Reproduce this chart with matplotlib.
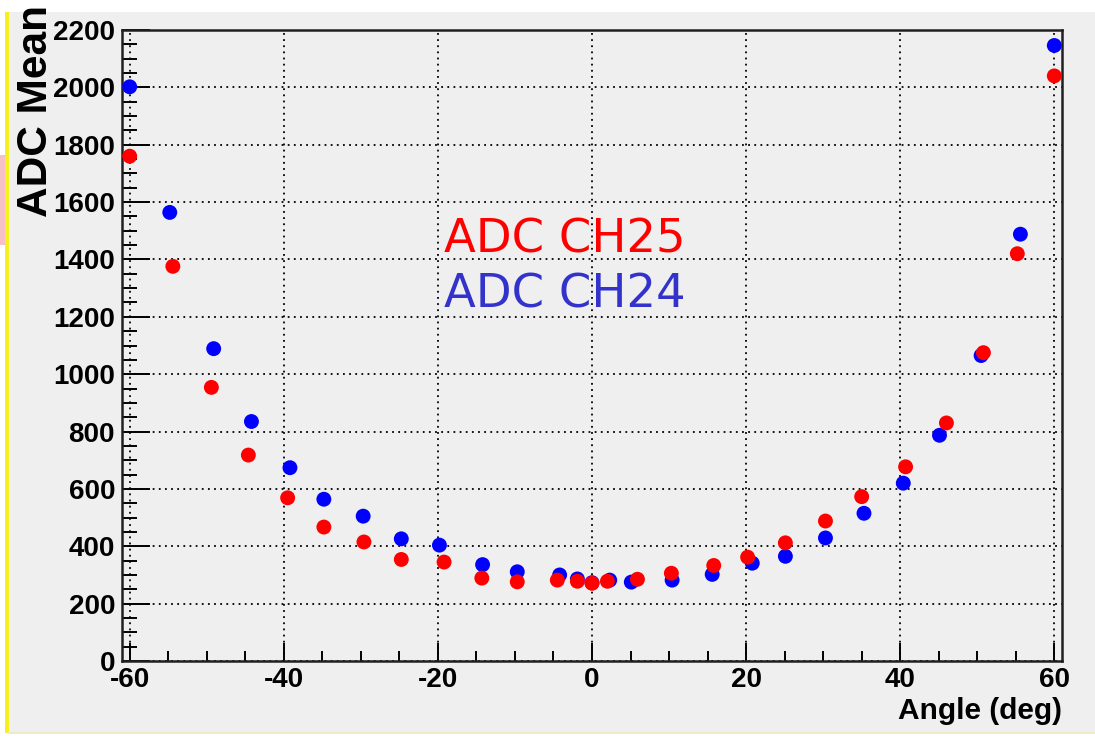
import matplotlib
matplotlib.use("Agg")
import matplotlib.pyplot as plt
from matplotlib.patches import Rectangle
from matplotlib.ticker import MultipleLocator

plt.rcParams["axes.unicode_minus"] = False

# ---- data ----
angles_ch24 = [-60, -54.8, -49.1, -44.2, -39.2, -34.8, -29.7, -24.75, -19.8, -14.2,
               -9.7, -4.2, -1.9, 0, 2.3, 5.1, 10.4, 15.6, 20.8, 25.1, 30.3, 35.3,
               40.4, 45.1, 50.5, 55.6, 60]
adc_ch24 = [2002, 1564, 1089, 835, 674, 564, 505, 426, 404, 336,
            311, 300, 286, 273, 282, 275, 282, 302, 341, 365, 429, 515,
            620, 787, 1065, 1488, 2146]

angles_ch25 = [-60, -54.4, -49.4, -44.6, -39.5, -34.8, -29.6, -24.75, -19.2, -14.3,
               -9.7, -4.5, -1.9, 0, 2.0, 5.9, 10.3, 15.8, 20.2, 25.1, 30.3, 35.0,
               40.7, 46.0, 50.8, 55.2, 60]
adc_ch25 = [1760, 1376, 954, 718, 569, 467, 415, 354, 345, 289,
            276, 282, 278, 271, 278, 285, 306, 333, 362, 412, 488, 573,
            677, 830, 1075, 1420, 2040]

label_ch25 = "ADC CH25"
label_ch24 = "ADC CH24"
x_title = "Angle (deg)"
y_title = "ADC Mean"

BG = "#efefef"
W, H = 1095, 736
fig = plt.figure(figsize=(W / 100, H / 100), dpi=100, facecolor=BG)

def px_rect(x0, y0, x1, y1, color):
    fig.patches.append(Rectangle((x0 / W, 1 - y1 / H), (x1 - x0) / W, (y1 - y0) / H,
                                 transform=fig.transFigure, facecolor=color,
                                 edgecolor="none", zorder=-10))

# decorations around the canvas
px_rect(0, 0, W, 12, "white")
px_rect(0, 0, 8, H, "white")
px_rect(0, 733, W, H, "white")
px_rect(0, 155, 6, 245, "#f7c0c6")
px_rect(5, 12, 9, 733, "#f7f020")
px_rect(8, 732, W, 734, "#ecebc8")

ax = fig.add_axes([122 / W, 1 - 661 / H, (1062 - 122) / W, (661 - 30) / H])
ax.set_facecolor(BG)

ax.scatter(angles_ch24, adc_ch24, s=115, color="#0000ff", edgecolors="none",
           zorder=3, clip_on=False)
ax.scatter(angles_ch25, adc_ch25, s=115, color="#ff0000", edgecolors="none",
           zorder=4, clip_on=False)

ax.set_xlim(-61, 61)
ax.set_ylim(0, 2200)
ax.xaxis.set_major_locator(MultipleLocator(20))
ax.xaxis.set_minor_locator(MultipleLocator(5))
ax.yaxis.set_major_locator(MultipleLocator(200))
ax.yaxis.set_minor_locator(MultipleLocator(50))

ax.tick_params(axis="x", which="major", direction="in", length=13, width=1.4,
               top=False, pad=4, labelsize=20)
ax.tick_params(axis="x", which="minor", direction="in", length=7, width=1.4, top=False)
ax.tick_params(axis="y", which="major", direction="in", length=20, width=1.4,
               right=False, pad=5, labelsize=20)
ax.tick_params(axis="y", which="minor", direction="in", length=11, width=1.4, right=False)
for lab in ax.get_xticklabels() + ax.get_yticklabels():
    lab.set_fontweight("bold")
    lab.set_fontfamily("Liberation Sans")

ax.grid(True, which="major", color="black", linestyle=(0, (1, 2.4)), linewidth=1.3)
ax.set_axisbelow(True)
for sp in ax.spines.values():
    sp.set_linewidth(1.8)
    sp.set_color("#202020")

ax.set_xlabel(x_title, fontsize=21.5, fontweight="bold", family="Liberation Sans",
              loc="right", labelpad=3)
fig.text(36 / W, 1 - 5 / H, y_title, rotation=90, ha="center", va="top",
         fontsize=30.5, fontweight="bold", family="Liberation Sans")

fig.text(444 / W, 1 - 252 / H, label_ch25, color="#ff0000", fontsize=33.5,
         family="DejaVu Sans", ha="left", va="baseline")
fig.text(444 / W, 1 - 308 / H, label_ch24, color="#3333cc", fontsize=33.5,
         family="DejaVu Sans", ha="left", va="baseline")

fig.savefig("out.png", dpi=100, facecolor=fig.get_facecolor())
